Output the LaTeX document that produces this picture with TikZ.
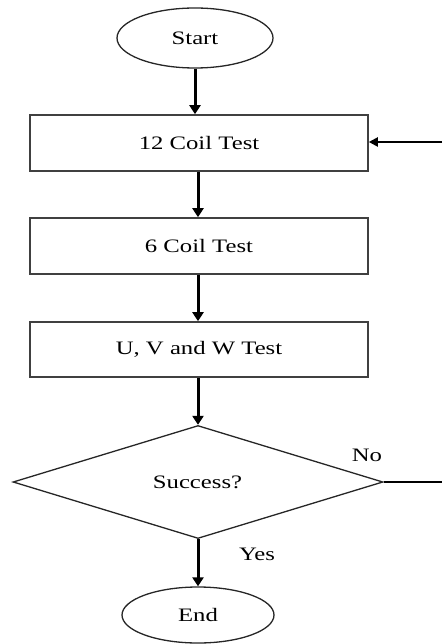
\documentclass[tikz,border=0pt]{standalone}
\usepackage{fontspec}
\setmainfont[FakeStretch=1.3]{Liberation Serif}
\usetikzlibrary{shapes.geometric,arrows.meta}
\begin{document}
\begin{tikzpicture}[x=1pt,y=-1pt,
  every node/.style={font=\fontsize{19}{22}\selectfont, inner sep=0pt},
  term/.style={ellipse, draw=black!85, line width=1.3pt},
  procbox/.style={rectangle, draw=black!75, line width=1.6pt, minimum width=338pt, minimum height=56pt},
  decide/.style={diamond, draw=black!85, line width=1.3pt, minimum width=370pt, minimum height=113pt},
  flow/.style={line width=3pt, -{Triangle[length=9pt,width=11pt]}},
  side/.style={line width=2pt},
  lbl/.style={}]
\useasboundingbox (0,0) rectangle (442,644);
\node[term, minimum width=156pt, minimum height=60pt] (start) at (195,38) {Start};
\node[procbox] (b1) at (199,143) {12 Coil Test};
\node[procbox] (b2) at (199,246) {6 Coil Test};
\node[procbox, minimum height=55pt] (b3) at (199,349.5) {U, V and W Test};
\node[decide] (dec) at (198,482) {};
\node at (197.5,482) (dtext) {Success?};
\node[term, minimum width=152pt, minimum height=56pt] (end) at (198,615) {End};
\node[lbl] (no) at (367,455) {No};
\node[lbl] (yes) at (257,554) {Yes};
\coordinate (inR) at (442,142);
\coordinate (outR) at (442,482);
\draw[flow] (start.south) -- (start.south |- b1.north);
\draw[flow] (b1.south -| 198,0) -- (b2.north -| 198,0);
\draw[flow] (b2.south -| 198,0) -- (b3.north -| 198,0);
\draw[flow] (b3.south -| 198,0) -- (dec.north);
\draw[flow] (dec.south) -- (end.north);
\draw[side, -{Triangle[length=9pt,width=9pt]}] (inR) -- (inR -| b1.east);
\draw[side] (dec.east) -- (outR);
\end{tikzpicture}
\end{document}
